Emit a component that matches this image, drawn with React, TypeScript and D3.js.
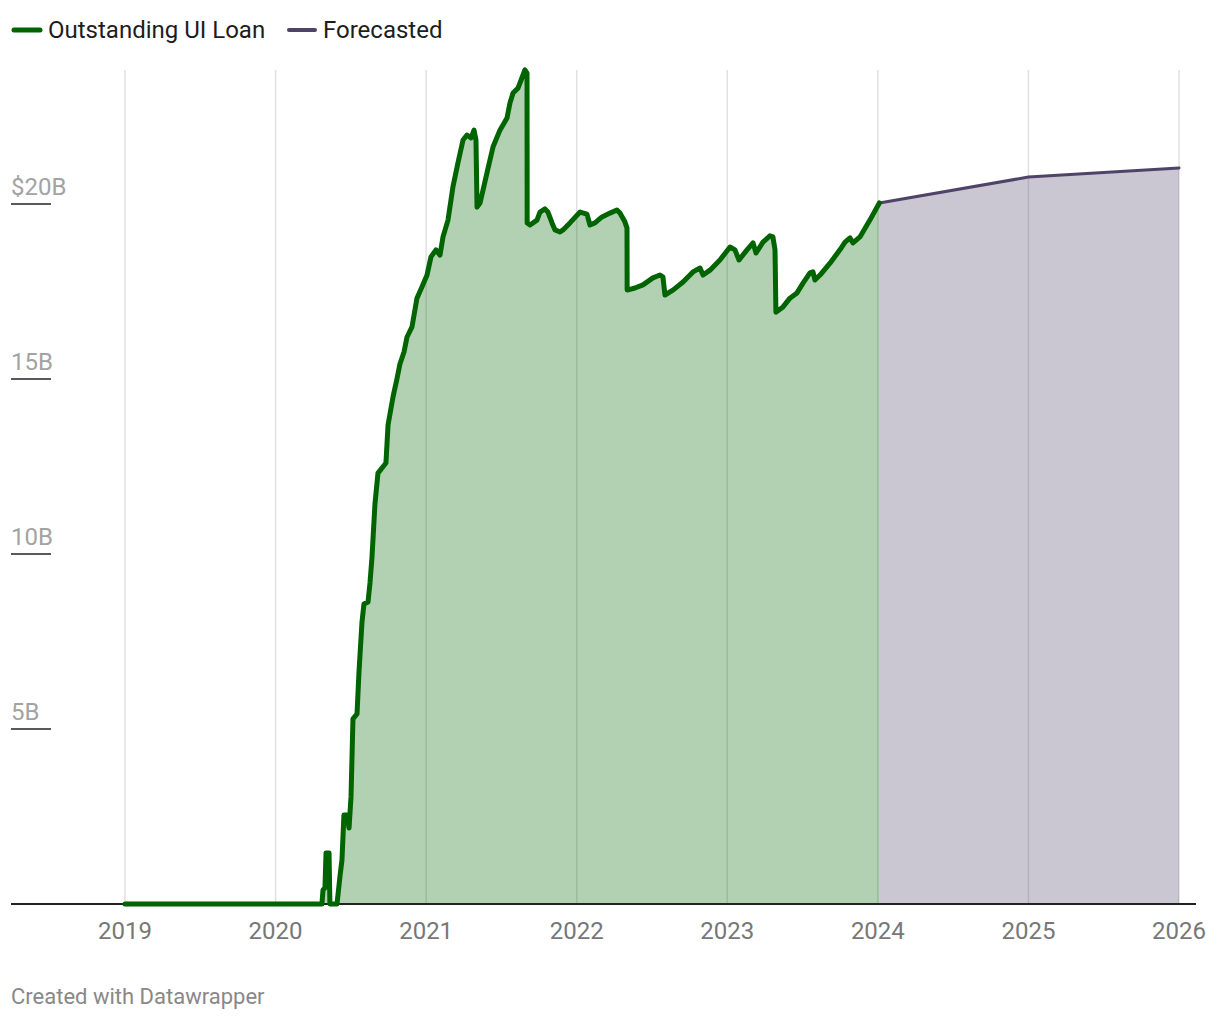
import React, { useRef, useEffect } from "react";
import * as d3 from "d3";

// Outstanding UI loan balance, $ billions, by decimal year
const loanYears = [
  2019.0, 2020.308, 2020.315, 2020.328, 2020.335, 2020.355, 2020.361, 2020.408, 2020.428, 2020.441,
  2020.454, 2020.474, 2020.488, 2020.501, 2020.514, 2020.541, 2020.554, 2020.574, 2020.587, 2020.614,
  2020.627, 2020.64, 2020.66, 2020.68, 2020.733, 2020.747, 2020.78, 2020.806, 2020.826, 2020.853,
  2020.873, 2020.906, 2020.939, 2020.972, 2021.006, 2021.032, 2021.065, 2021.092, 2021.112, 2021.145,
  2021.178, 2021.211, 2021.245, 2021.271, 2021.298, 2021.318, 2021.331, 2021.338, 2021.358, 2021.404,
  2021.444, 2021.49, 2021.537, 2021.557, 2021.577, 2021.61, 2021.636, 2021.656, 2021.67, 2021.671,
  2021.69, 2021.736, 2021.756, 2021.789, 2021.809, 2021.836, 2021.856, 2021.889, 2021.909, 2021.955,
  2022.022, 2022.068, 2022.088, 2022.121, 2022.168, 2022.221, 2022.267, 2022.287, 2022.32, 2022.334,
  2022.335, 2022.387, 2022.44, 2022.506, 2022.553, 2022.573, 2022.586, 2022.639, 2022.706, 2022.772,
  2022.819, 2022.839, 2022.885, 2022.951, 2023.018, 2023.051, 2023.078, 2023.131, 2023.171, 2023.191,
  2023.237, 2023.283, 2023.303, 2023.317, 2023.323, 2023.37, 2023.416, 2023.463, 2023.503, 2023.549,
  2023.569, 2023.582, 2023.616, 2023.682, 2023.748, 2023.782, 2023.815, 2023.835, 2023.881, 2023.947,
  2024.01,
];
const loanValues = [
  0, 0, 0.4, 0.46, 1.46, 1.46, 0, 0, 0.8, 1.26,
  2.54, 2.54, 2.17, 3.06, 5.29, 5.43, 6.63, 8.06, 8.57, 8.63,
  9.17, 9.89, 11.43, 12.31, 12.6, 13.69, 14.49, 15.0, 15.43, 15.77,
  16.2, 16.49, 17.31, 17.63, 17.97, 18.49, 18.69, 18.54, 19.06, 19.54,
  20.49, 21.17, 21.83, 21.97, 21.89, 22.11, 21.83, 19.91, 20.03, 20.89,
  21.63, 22.11, 22.46, 22.89, 23.17, 23.31, 23.6, 23.83, 23.74, 19.46,
  19.4, 19.54, 19.77, 19.86, 19.77, 19.46, 19.26, 19.2, 19.26, 19.46,
  19.77, 19.71, 19.4, 19.46, 19.63, 19.74, 19.83, 19.74, 19.49, 19.31,
  17.54, 17.6, 17.69, 17.89, 17.97, 17.91, 17.4, 17.54, 17.77, 18.06,
  18.17, 17.97, 18.11, 18.4, 18.77, 18.69, 18.4, 18.69, 18.89, 18.6,
  18.91, 19.09, 19.06, 18.69, 16.91, 17.06, 17.31, 17.46, 17.74, 18.03,
  18.06, 17.83, 17.97, 18.31, 18.69, 18.91, 19.03, 18.89, 19.06, 19.54,
  20.03,
];

const forecastYears = [2024.01, 2025.0, 2026.0];
const forecastValues = [20.03, 20.77, 21.03];

const yearTicks = [2019, 2020, 2021, 2022, 2023, 2024, 2025, 2026];
const valueTicks = [5, 10, 15, 20];
const valueLabels = ["5B", "10B", "15B", "$20B"];

const loanColor = "#006400";
const forecastColor = "#4e4469";
const font = "Roboto, 'Noto Sans', sans-serif";

const App = () => {
  const svgRef = useRef<SVGSVGElement>(null);
  const width = 1220;
  const height = 1020;

  useEffect(() => {
    const svg = d3.select(svgRef.current);
    svg.selectAll("*").remove();

    const x = d3.scaleLinear().domain([2019, 2026]).range([125, 1179]);
    const y = d3.scaleLinear().domain([0, 20]).range([904, 204]);
    const plotTop = 70;

    const loan = loanYears.map((t, i) => ({ t, v: loanValues[i] }));
    const forecast = forecastYears.map((t, i) => ({ t, v: forecastValues[i] }));

    // year gridlines
    svg.append("g")
      .selectAll("line")
      .data(yearTicks)
      .enter()
      .append("line")
      .attr("x1", (d) => x(d))
      .attr("x2", (d) => x(d))
      .attr("y1", plotTop)
      .attr("y2", y(0))
      .attr("stroke", "#e0e0e0")
      .attr("stroke-width", 1.5);

    const area = d3
      .area<{ t: number; v: number }>()
      .x((d) => x(d.t))
      .y0(y(0))
      .y1((d) => y(d.v));

    svg.append("path").datum(loan).attr("d", area).attr("fill", loanColor).attr("fill-opacity", 0.3);
    svg.append("path").datum(forecast).attr("d", area).attr("fill", forecastColor).attr("fill-opacity", 0.3);

    // value labels with short underline
    const yl = svg.append("g");
    valueTicks.forEach((v, i) => {
      yl.append("line")
        .attr("x1", 11)
        .attr("x2", 51)
        .attr("y1", y(v))
        .attr("y2", y(v))
        .attr("stroke", "#222")
        .attr("stroke-width", 1.5);
      yl.append("text")
        .attr("x", 11)
        .attr("y", y(v) - 9)
        .attr("fill", "#a3a3a3")
        .attr("font-family", font)
        .attr("font-size", 24)
        .text(valueLabels[i]);
    });

    const line = d3
      .line<{ t: number; v: number }>()
      .x((d) => x(d.t))
      .y((d) => y(d.v));

    svg.append("path")
      .datum(forecast)
      .attr("d", line)
      .attr("fill", "none")
      .attr("stroke", forecastColor)
      .attr("stroke-width", 3)
      .attr("stroke-linejoin", "round")
      .attr("stroke-linecap", "round");

    // baseline
    svg.append("line")
      .attr("x1", 11)
      .attr("x2", 1196)
      .attr("y1", y(0))
      .attr("y2", y(0))
      .attr("stroke", "#222")
      .attr("stroke-width", 2);

    svg.append("path")
      .datum(loan)
      .attr("d", line)
      .attr("fill", "none")
      .attr("stroke", loanColor)
      .attr("stroke-width", 5)
      .attr("stroke-linejoin", "round")
      .attr("stroke-linecap", "round");

    // year labels
    svg.append("g")
      .selectAll("text")
      .data(yearTicks)
      .enter()
      .append("text")
      .attr("x", (d) => x(d))
      .attr("y", 939)
      .attr("text-anchor", "middle")
      .attr("fill", "#777")
      .attr("font-family", font)
      .attr("font-size", 24)
      .text((d) => d);

    // legend
    const legend = [
      { label: "Outstanding UI Loan", color: loanColor, x: 14, w: 5 },
      { label: "Forecasted", color: forecastColor, x: 289, w: 4 },
    ];
    legend.forEach((l) => {
      svg.append("line")
        .attr("x1", l.x)
        .attr("x2", l.x + 26)
        .attr("y1", 30)
        .attr("y2", 30)
        .attr("stroke", l.color)
        .attr("stroke-width", l.w)
        .attr("stroke-linecap", "round");
      svg.append("text")
        .attr("x", l.x + 34)
        .attr("y", 38)
        .attr("fill", "#1d1d1d")
        .attr("font-family", font)
        .attr("font-size", 24)
        .text(l.label);
    });

    svg.append("text")
      .attr("x", 11)
      .attr("y", 1004)
      .attr("fill", "#888")
      .attr("font-family", font)
      .attr("font-size", 22)
      .text("Created with Datawrapper");
  }, []);

  return (
    <div style={{ position: "absolute", top: 0, left: 0, background: "#fff" }}>
      <svg ref={svgRef} width={width} height={height}></svg>
    </div>
  );
};

export default App;
